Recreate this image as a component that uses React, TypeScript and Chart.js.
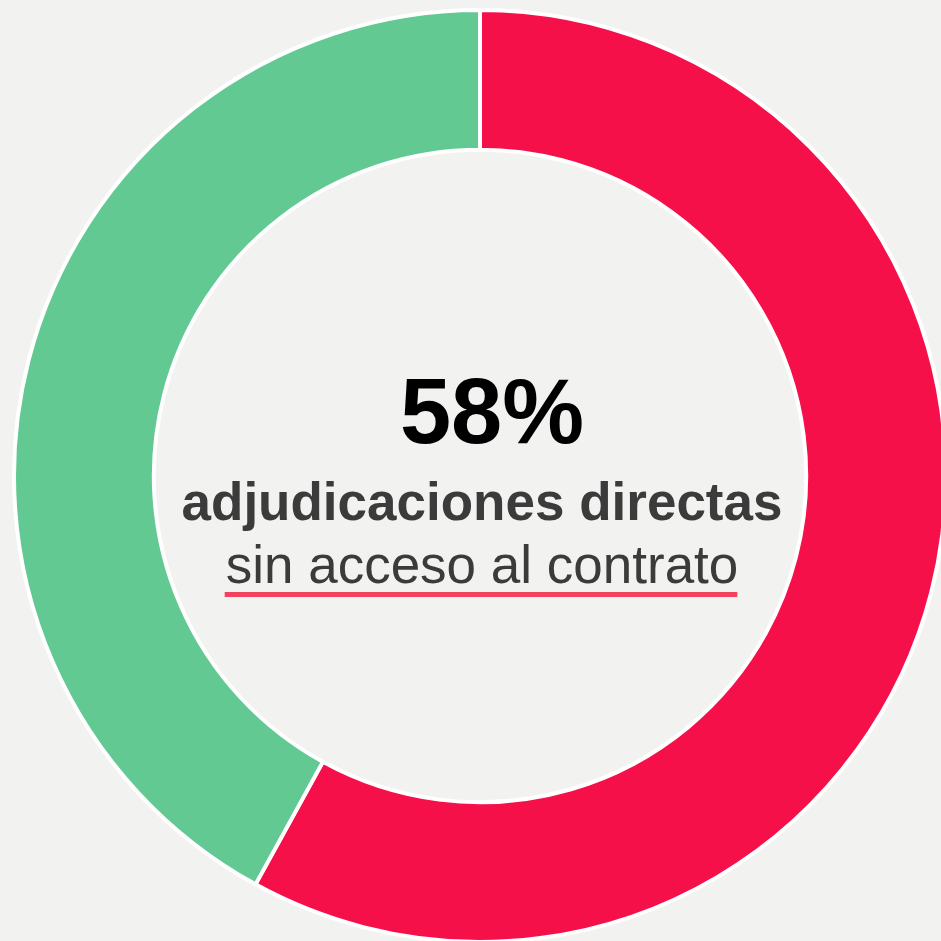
import React, { useEffect, useRef } from "react";
import { Chart, registerables } from "chart.js";

Chart.register(...registerables);

const categories = ["Sin acceso al contrato", "Con acceso al contrato"];
const values = [58, 42];
const colors = ["#F5104A", "#62C993"];
const headline = "58%";
const line1 = "adjudicaciones directas";
const line2 = "sin acceso al contrato";

const SIZE = 936;

const centerText = {
  id: "centerText",
  afterDraw(chart: any) {
    const { ctx, chartArea } = chart;
    const cx = (chartArea.left + chartArea.right) / 2;
    const cy = (chartArea.top + chartArea.bottom) / 2;
    ctx.save();
    ctx.textAlign = "center";
    ctx.textBaseline = "alphabetic";
    ctx.fillStyle = "#000000";
    ctx.font = "bold 92px 'Liberation Sans', Arial, sans-serif";
    ctx.fillText(headline, cx + 12, cy - 33);
    ctx.fillStyle = "#3b3b3b";
    ctx.font = "bold 53px 'Liberation Sans', Arial, sans-serif";
    ctx.fillText(line1, cx + 2, cy + 44);
    ctx.font = "53px 'Liberation Sans', Arial, sans-serif";
    ctx.fillText(line2, cx + 2, cy + 107);
    const w = ctx.measureText(line2).width;
    ctx.fillStyle = "#F2425F";
    ctx.fillRect(cx + 2 - w / 2 - 1, cy + 116, w, 5);
    ctx.restore();
  },
};

export default function App() {
  const ref = useRef<HTMLCanvasElement | null>(null);
  useEffect(() => {
    if (!ref.current) return;
    const chart = new Chart(ref.current, {
      type: "doughnut",
      data: {
        labels: categories,
        datasets: [
          {
            data: values,
            backgroundColor: colors,
            borderColor: "#ffffff",
            borderWidth: 4,
            hoverBorderWidth: 4,
          },
        ],
      },
      options: {
        responsive: false,
        animation: false,
        cutout: "70%",
        layout: { padding: 0 },
        plugins: {
          legend: { display: false },
          tooltip: { enabled: false },
        },
      },
      plugins: [centerText],
    });
    return () => chart.destroy();
  }, []);
  return (
    <div
      style={{
        position: "fixed",
        left: 0,
        top: 0,
        width: 941,
        height: 941,
        overflow: "hidden",
        background: "#f2f2f1",
      }}
    >
      <canvas
        ref={ref}
        width={SIZE}
        height={SIZE}
        style={{ position: "absolute", left: 12, top: 8, width: SIZE, height: SIZE }}
      />
    </div>
  );
}
